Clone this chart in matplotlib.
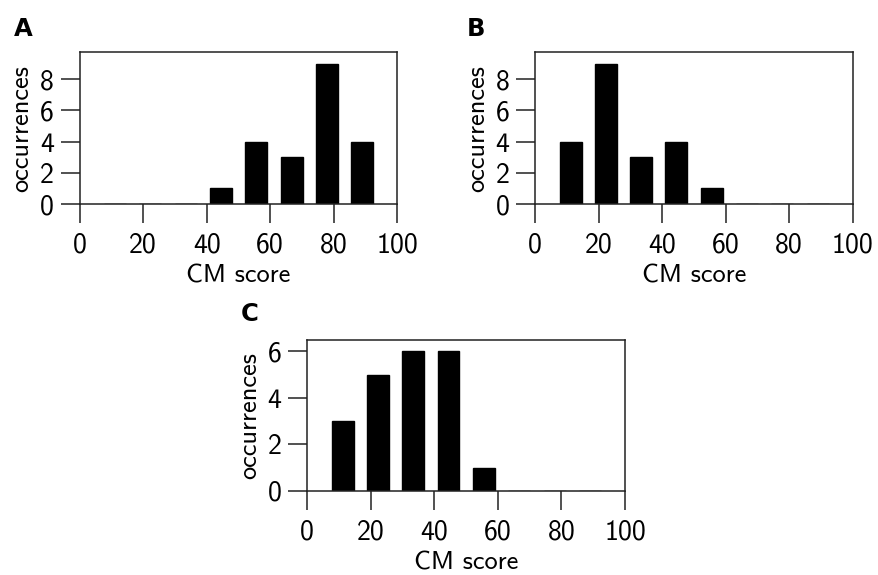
import matplotlib
matplotlib.use("Agg")
import matplotlib.pyplot as plt
import numpy as np

# Bin left edges (CM score) shared by all panels
bin_lefts = [7.7, 18.8, 29.9, 41.0, 52.1, 63.3, 74.4, 85.5]
bar_width = 6.9

counts_A = [0, 0, 0, 1, 4, 3, 9, 4]
counts_B = [4, 9, 3, 4, 1, 0, 0, 0]
counts_C = [3, 5, 6, 6, 1, 0, 0, 0]

panel_labels = ["A", "B", "C"]
x_ticks = [0, 20, 40, 60, 80, 100]
x_label = "CM score"
y_label = "occurrences"

plt.rcParams["font.family"] = ["cmss10", "DejaVu Sans"]
plt.rcParams["axes.unicode_minus"] = False

fig = plt.figure(figsize=(8.79, 5.75), dpi=100)

positions = [
    [0.0906, 0.6452, 0.3614, 0.2638],
    [0.6090, 0.6452, 0.3611, 0.2638],
    [0.3496, 0.1461, 0.3614, 0.2621],
]
label_pos = [(0.0159, 0.9374), (0.5313, 0.9374), (0.274, 0.4409)]

for counts, pos, lab, lp in zip([counts_A, counts_B, counts_C], positions,
                                panel_labels, label_pos):
    ax = fig.add_axes(pos)
    ax.bar(bin_lefts, counts, width=bar_width, align="edge",
           color="black", edgecolor="black", linewidth=1.0)
    ax.set_xlim(0, 100)
    ax.set_ylim(0, max(counts) * 1.08)
    ax.set_xticks(x_ticks)
    ax.set_yticks(range(0, max(counts) + 1, 2))
    for s in ax.spines.values():
        s.set_linewidth(1.1)
        s.set_color("#222222")
    ax.tick_params(direction="out", length=13.5, width=1.1, color="#222222",
                   labelsize=20)
    ax.tick_params(axis="x", pad=7)
    ax.tick_params(axis="y", pad=5)
    ax.set_xlabel(x_label, fontsize=19, labelpad=5)
    ax.set_ylabel(y_label, fontsize=19, labelpad=5)
    fig.text(lp[0], lp[1], lab, fontsize=17.5, fontweight="bold",
             family="DejaVu Sans", va="baseline", ha="left")

fig.savefig("out.png", dpi=100)
